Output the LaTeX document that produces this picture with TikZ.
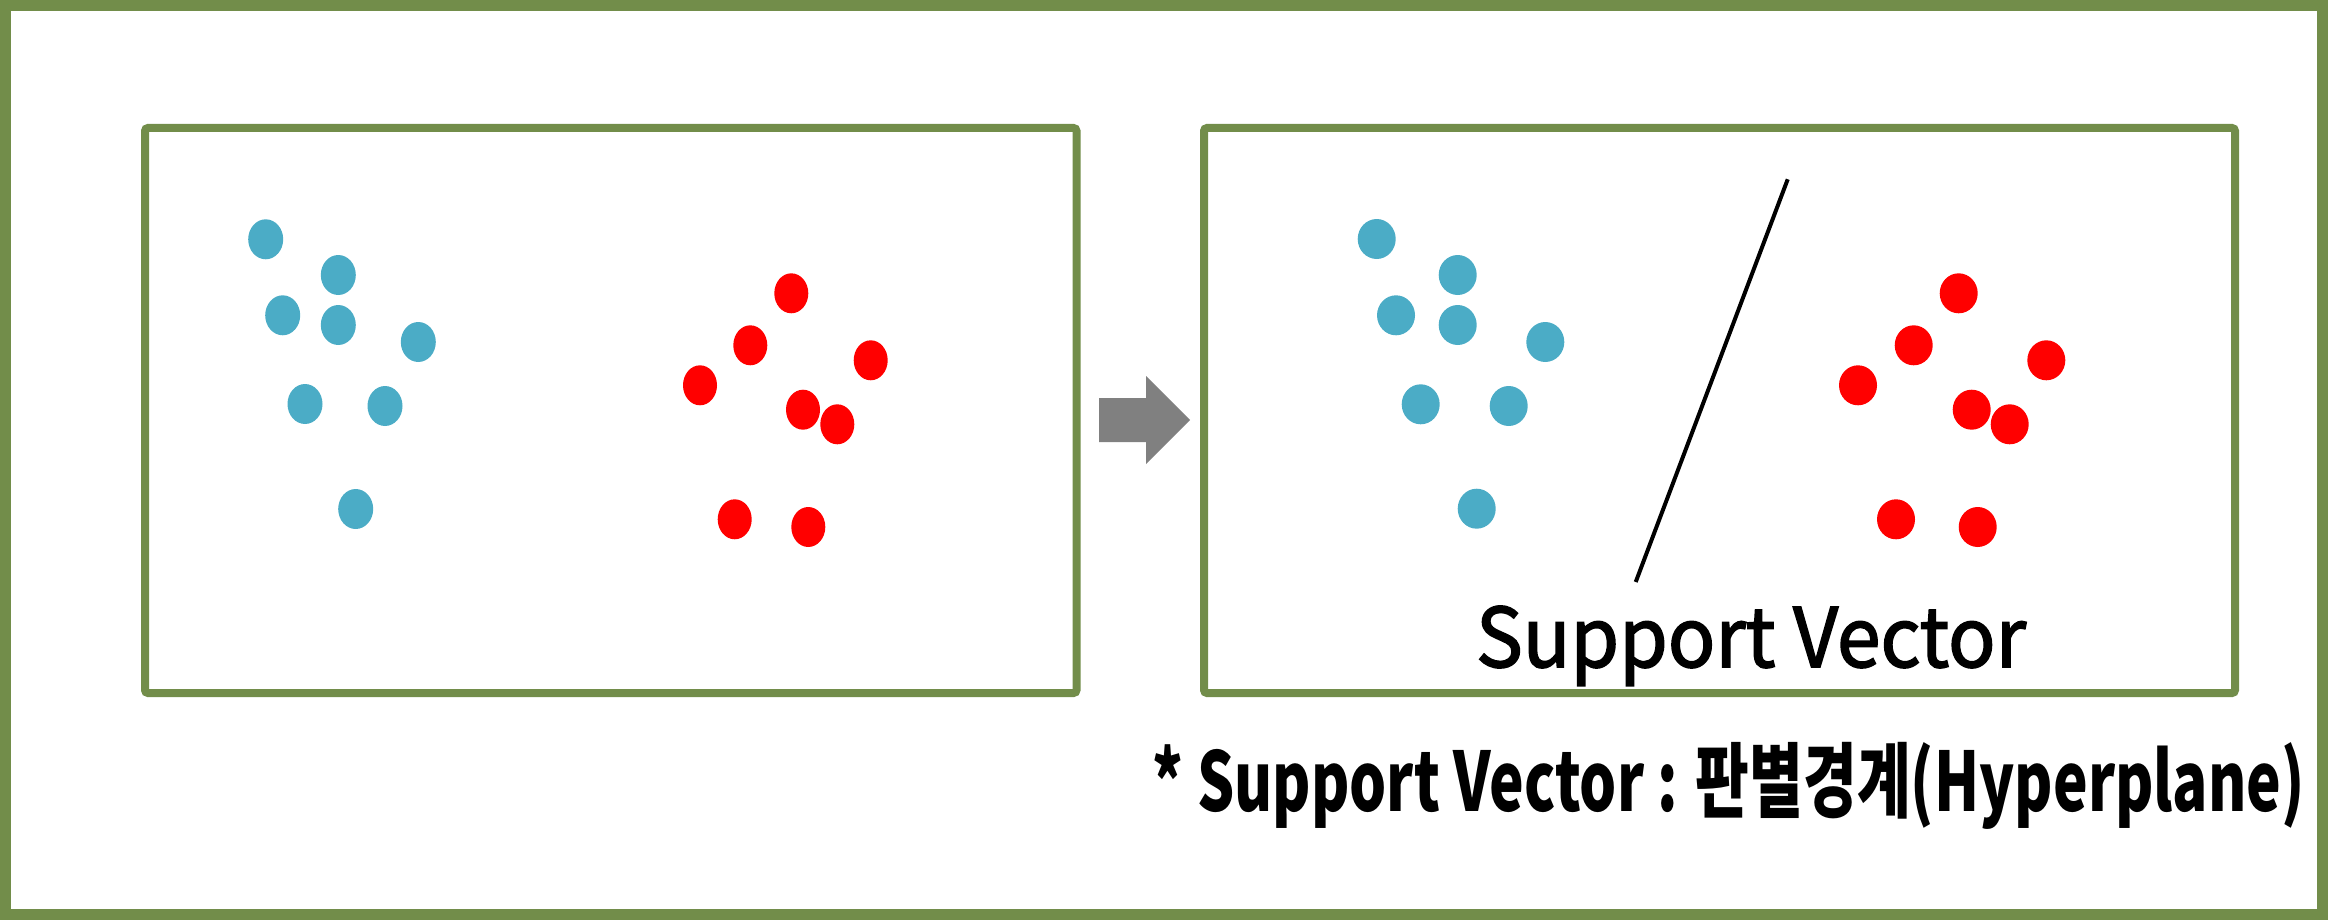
\documentclass[tikz,border=0pt]{standalone}
\usepackage{fontspec}
\setmainfont{Noto Sans CJK KR}
\usetikzlibrary{shapes.geometric}

\definecolor{framegreen}{HTML}{728D4A}
\definecolor{dotblue}{HTML}{4BACC6}
\definecolor{dotred}{HTML}{FF0000}
\definecolor{arrowgray}{HTML}{808080}

\tikzset{
	panel/.style={draw=framegreen, line width=8pt, rounded corners=3pt},
	dot/.style={ellipse, inner sep=0, minimum height=40pt},
	bluedot/.style={dot, fill=dotblue},
	reddot/.style={dot, fill=dotred},
	label/.style={inner sep=0, anchor=base}
}

\begin{document}
\begin{tikzpicture}[x=1pt,y=-1pt]
	\useasboundingbox (0,0) rectangle (2328,920);
	\draw[draw=framegreen, line width=11pt] (5.5,5.5) rectangle (2322.5,914.5);
	\draw[panel] (145,128) rectangle (1076.5,693);
	\draw[panel] (1204,128) rectangle (2235,693);
	% data before
	\foreach \x/\y [count=\i] in {265.7/239.3, 338.3/275, 282.7/315.3, 338.3/325, 418.3/342, 305/404, 385/406, 355.7/509}
		\node[bluedot, minimum width=35pt] (lb\i) at (\x,\y) {};
	\foreach \x/\y [count=\i] in {791.3/293.3, 750.3/345.3, 870.7/360.3, 700/385.3, 803/409.7, 837.3/424.3, 734.7/519.3, 808.3/527}
		\node[reddot, minimum width=34pt] (lr\i) at (\x,\y) {};
	% arrow
	\fill[arrowgray] (1099,398) -- (1146,398) -- (1146,376) -- (1190,420) -- (1146,464) -- (1146,442) -- (1099,442) -- cycle;
	% data after
	\foreach \x/\y [count=\i] in {1376.7/239, 1457.7/275, 1396/315.3, 1457.7/325, 1545.3/342, 1420.7/404.3, 1508.7/406, 1476.7/508.7}
		\node[bluedot, minimum width=38pt] (rb\i) at (\x,\y) {};
	\foreach \x/\y [count=\i] in {1958.7/293.3, 1913.7/345.3, 2046.3/360.3, 1858/385.3, 1971.7/409.7, 2009.7/424.3, 1896/519.3, 1977.7/527}
		\node[reddot, minimum width=38pt] (rr\i) at (\x,\y) {};
	\coordinate (hptop) at (1787.7,179.3);
	\coordinate (hpbot) at (1635.7,582);
	\draw[line width=4pt] (hptop) -- (hpbot);
	\node[label] (svtext) at (1751,667) {\resizebox{550pt}{\height}{\fontsize{82}{90}\selectfont\addfontfeature{FakeBold=2}Support Vector}};
	\node[label] (note) at (1729,811) {\resizebox{1152pt}{\height}{\fontsize{82}{90}\selectfont\bfseries * Support Vector : 판별경계(Hyperplane)}};
\end{tikzpicture}
\end{document}
